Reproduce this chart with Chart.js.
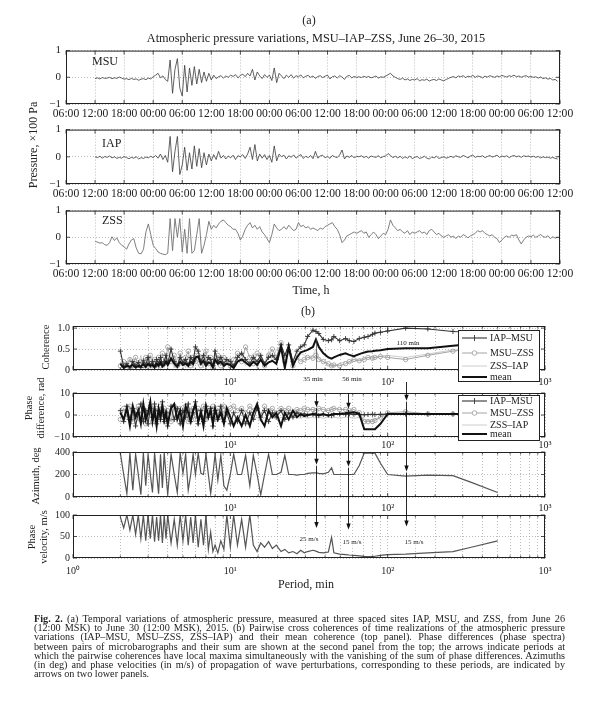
<!DOCTYPE html>
<html>
<head>
<meta charset="utf-8">
<script src="https://cdn.jsdelivr.net/npm/chart.js@4.4.1/dist/chart.umd.min.js"></script>
<style>
  body { margin: 0; background: #fff; }
  #page { position: relative; width: 600px; height: 701px; overflow: hidden;
          font-family: "Liberation Serif", "DejaVu Serif", serif; color: #222; }
  canvas { position: absolute; left: 0; }
  #overlay { top: 0; z-index: 5; pointer-events: none; }
  .t { position: absolute; white-space: nowrap; z-index: 6; line-height: 1; }
  .c { transform: translate(-50%, -50%); }
  .rot { transform: translate(-50%, -50%) rotate(-90deg); }
  .note { font-size: 7px; background: #fff; padding: 0 1px; }
  #caption { position: absolute; left: 34px; top: 614px; width: 531px; font-size: 10.2px; line-height: 9.2px; z-index: 6; }
  #caption div { white-space: nowrap; text-align: justify; text-align-last: justify; }
  #caption div.last { text-align-last: left; }
</style>
</head>
<body>
<div id="page">
  <div class="t c" style="left:309px;top:20px;font-size:12px;">(a)</div>
  <div class="t c" style="left:316px;top:38px;font-size:12.3px;">Atmospheric pressure variations, MSU–IAP–ZSS, June 26–30, 2015</div>
  <div class="t" style="left:92px;top:55px;font-size:12px;">MSU</div>
  <div class="t" style="left:102px;top:137px;font-size:12px;">IAP</div>
  <div class="t" style="left:102px;top:214px;font-size:12px;">ZSS</div>
  <div class="t rot" style="left:33px;top:145px;font-size:12px;">Pressure, ×100 Pa</div>
  <div class="t c" style="left:311px;top:290px;font-size:12px;">Time, h</div>

  <div class="t c" style="left:308px;top:311px;font-size:12px;">(b)</div>
  <div class="t rot" style="left:46px;top:347px;font-size:10.5px;">Coherence</div>
  <div class="t rot" style="left:29px;top:408px;font-size:10.5px;">Phase</div>
  <div class="t rot" style="left:41px;top:408px;font-size:10.5px;">difference, rad</div>
  <div class="t rot" style="left:36px;top:476px;font-size:10.5px;">Azimuth, deg</div>
  <div class="t rot" style="left:32px;top:537px;font-size:10.5px;">Phase</div>
  <div class="t rot" style="left:44px;top:537px;font-size:10.5px;">velocity, m/s</div>
  <div class="t c" style="left:306px;top:584px;font-size:12px;">Period, min</div>

  <div class="t c note" style="left:313px;top:379px;">35 min</div>
  <div class="t c note" style="left:352px;top:379px;">56 min</div>
  <div class="t c note" style="left:408px;top:343px;background:none;">110 min</div>
  <div class="t c note" style="left:309px;top:539px;">25 m/s</div>
  <div class="t c note" style="left:352px;top:542px;">15 m/s</div>
  <div class="t c note" style="left:414px;top:542px;">15 m/s</div>

  <canvas id="msu"></canvas>
  <canvas id="iap"></canvas>
  <canvas id="zss"></canvas>
  <canvas id="coh"></canvas>
  <canvas id="phase"></canvas>
  <canvas id="azim"></canvas>
  <canvas id="vel"></canvas>
  <canvas id="overlay"></canvas>

  <div id="caption">
    <div><b>Fig. 2.</b> (a) Temporal variations of atmospheric pressure, measured at three spaced sites IAP, MSU, and ZSS, from June 26</div>
    <div>(12:00 MSK) to June 30 (12:00 MSK), 2015. (b) Pairwise cross coherences of time realizations of the atmospheric pressure</div>
    <div>variations (IAP–MSU, MSU–ZSS, ZSS–IAP) and their mean coherence (top panel). Phase differences (phase spectra)</div>
    <div>between pairs of microbarographs and their sum are shown at the second panel from the top; the arrows indicate periods at</div>
    <div>which the pairwise coherences have local maxima simultaneously with the vanishing of the sum of phase differences. Azimuths</div>
    <div>(in deg) and phase velocities (in m/s) of propagation of wave perturbations, corresponding to these periods, are indicated by</div>
    <div class="last">arrows on two lower panels.</div>
  </div>
</div>

<script>
// --- (a) PRESSURE, x100 Pa, one sample every 30 min from June 26 12:00 ---
const sampleStartHour = 6;      // hours after June 26 06:00
const sampleStepHour = 0.5;

const pressureMsu = [
  -0.05, -0.02, -0.06, -0.01, -0.04, -0.03, 0.00, -0.05, -0.02, -0.04, 0.01, -0.03, -0.07, -0.05, -0.09, -0.04, -0.08, -0.06, -0.11, -0.07, -0.05, -0.09, -0.03, -0.06, 0.02,
  0.08, 0.15, -0.02, 0.05, -0.08, -0.15,
  0.65, -0.6, 0.3, 0.7, -0.4, -0.7, 0.45, -0.55, 0.35, -0.3, 0.4, -0.25, 0.3, -0.2,
  0.2, -0.15, 0.15, -0.1, 0.08, -0.05,
  0.02, 0.06, -0.03, 0.05, 0.0, 0.08, 0.03, 0.1, -0.02, 0.07, 0.12, 0.02, 0.15, 0.05,
  0.3, -0.1, 0.2, 0.05, -0.05, 0.1, 0.0, 0.08, -0.12, 0.35, -0.2, 0.15,
  0.05, -0.05, 0.08, 0.0, 0.1, -0.03, 0.06, 0.02, 0.09, -0.02, 0.04, 0.07, 0.0, 0.05, -0.04, 0.03, 0.06, -0.01, 0.04, 0.08,
  -0.06, 0.02, 0.05, -0.03, 0.06, 0.01, -0.08, 0.04, 0.07, -0.02, 0.03, 0.0,
  0.02, -0.01, 0.04, 0.0, 0.03, -0.02, 0.01, 0.05, -0.03, 0.02, 0.0, 0.04,
  0.1, 0.15, 0.05, 0.0,
  -0.05, -0.08, -0.03, -0.1, -0.06, -0.12, -0.08, -0.1, -0.05, -0.13, -0.09, -0.11, -0.07, -0.14, -0.1, -0.08, -0.12, -0.06, -0.1, -0.13, -0.08, -0.04,
  0.0, 0.03, -0.02, 0.05, 0.02, 0.06, -0.01, 0.04, 0.02, 0.07, 0.0, 0.05, 0.03, -0.02, 0.04, 0.01, 0.06, 0.03, 0.0, 0.05,
  0.02, 0.07, 0.04, 0.01, 0.06, 0.03, 0.08, 0.02, 0.05, 0.0, 0.04, 0.06, 0.01, 0.03,
  0.0, 0.02, -0.03, 0.01, -0.05, -0.02, -0.07, -0.04, -0.1, -0.08, -0.15
];

const pressureIap = [
  0.0, -0.03, 0.02, -0.05, 0.01, -0.02, 0.03, -0.04, 0.0, -0.06, -0.02, -0.05, 0.01, -0.03, -0.07, -0.02, -0.05, 0.0, -0.08, -0.03, -0.06, -0.01, -0.04, 0.02, -0.03,
  0.05, -0.05, 0.1, -0.1, 0.05, -0.2,
  0.75, -0.55, 0.2, 0.75, -0.65, -0.3, 0.35, -0.5, 0.15, -0.45, 0.4, -0.35, 0.3, -0.4,
  0.15, -0.3, 0.1, -0.15, 0.08, -0.1,
  0.2, -0.05, 0.05, -0.08, 0.03, -0.04, 0.06, -0.1, 0.04, 0.0, 0.08, -0.06, 0.1, 0.35,
  -0.1, 0.45, -0.15, 0.1, -0.05, 0.08, -0.1, 0.05, -0.2, 0.4, -0.15, 0.1,
  0.0, 0.06, -0.08, 0.04, -0.02, 0.07, -0.05, 0.03, 0.08, -0.06, 0.02, -0.03, 0.05, -0.07, 0.2, -0.05, 0.03, 0.06, -0.04, 0.02,
  -0.06, 0.05, 0.0, -0.03, 0.07, 0.25, -0.08, 0.03, -0.02, 0.05, -0.04, 0.02,
  0.0, 0.04, -0.03, 0.02, -0.05, 0.03, 0.0, -0.02, 0.04, -0.04, 0.01, 0.03,
  0.12, 0.05, -0.03, 0.02,
  -0.04, 0.02, -0.06, 0.0, -0.05, 0.03, -0.07, -0.02, 0.01, -0.06, -0.03, 0.02, -0.05, -0.08, -0.01, -0.04, 0.02, -0.06, -0.03, 0.0, -0.05, -0.02,
  0.02, -0.03, 0.04, 0.0, -0.02, 0.05, 0.01, -0.04, 0.03, 0.06, -0.02, 0.02, 0.0, 0.04, -0.03, 0.01, 0.05, -0.01, 0.02, 0.06,
  -0.02, 0.03, 0.0, 0.04, -0.03, 0.02, 0.05, 0.0, 0.03, -0.02, 0.04, 0.01, 0.03, -0.01,
  0.02, -0.02, 0.01, -0.04, 0.0, -0.03, -0.01, -0.05, -0.02, -0.06, -0.08
];

const pressureZss = [
  -0.15, -0.18, -0.22, -0.2, -0.28, -0.3, -0.2, 0.02, -0.12, -0.02, -0.2, -0.3, -0.35,
  -0.45, -0.25, -0.1, -0.05, -0.4, -0.6, -0.62, -0.45, 0.2, 0.5, 0.1, -0.3,
  -0.42, -0.55, -0.6, -0.63, -0.65, -0.6, 0.7, -0.5, 0.7, 0.0, 0.7, -0.55, 0.3, -0.6, 0.7, -0.6, -0.5, 0.1, 0.7, -0.6, -0.3, 0.1, 0.6, 0.3,
  0.45, 0.35, 0.5, 0.6, 0.65, 0.55, 0.45, 0.4, 0.3, 0.3, 0.15, -0.1, 0.05, 0.3, 0.45, 0.55, 0.35, 0.45, 0.3, 0.4, 0.2, 0.1, -0.05, -0.2,
  0.1, 0.5, 0.35, 0.25, 0.3, 0.4, 0.3, 0.45, 0.35, 0.25, 0.3, 0.55, 0.4, 0.45, 0.35, 0.4, 0.3, 0.35, 0.3, 0.25,
  0.35, 0.3, 0.4, 0.45, 0.5, 0.55, 0.4, 0.3, 0.1, -0.2, -0.1, 0.05, 0.1, 0.15, 0.2, 0.15,
  0.2, 0.25, 0.15, 0.2, 0.0, 0.1, 0.2, 0.1, -0.05, 0.05, 0.15, 0.1, 0.3, 0.65, 0.45, 0.35, 0.25, 0.3, 0.2, 0.15, 0.25, 0.1, 0.2, 0.15,
  0.2, 0.25, 0.15, 0.2, 0.1, 0.25, 0.3, 0.2, 0.1, 0.15, 0.05, 0.0, 0.05, 0.1, 0.0, 0.05, -0.05, 0.05, 0.0, 0.1, 0.05, -0.02, 0.05, 0.1,
  0.15, 0.25, 0.2, 0.25, 0.15, 0.1, 0.05, 0.1, 0.0, -0.05, -0.2, -0.1, 0.0, 0.05, 0.0, 0.08, 0.05, 0.1, -0.1, -0.25, -0.1, 0.0, 0.05, 0.02,
  0.08, 0.0, 0.05, 0.1, 0.03, 0.0, 0.06, -0.05, 0.02, -0.03, 0.0
];

const timeTickHours = [0, 6, 12, 18, 24, 30, 36, 42, 48, 54, 60, 66, 72, 78, 84, 90, 96, 102];
const timeTickLabels = ['06:00', '12:00', '18:00', '00:00', '06:00', '12:00', '18:00', '00:00', '06:00',
                        '12:00', '18:00', '00:00', '06:00', '12:00', '18:00', '00:00', '06:00', '12:00'];
const pressureTicks = [-1, 0, 1];

// --- (b) SPECTRA vs period, min ---
const periods = [
  2.0, 2.1, 2.2, 2.3, 2.4, 2.5, 2.6, 2.7, 2.8, 2.9, 3.0, 3.1, 3.2, 3.3, 3.4, 3.5, 3.6, 3.7, 3.8, 3.9,
  4.0, 4.2, 4.4, 4.6, 4.8, 5.0, 5.2, 5.4, 5.6, 5.8,
  6.0, 6.25, 6.5, 6.75, 7.0, 7.25, 7.5, 7.75, 8.0, 8.33, 8.7, 9.1, 9.5,
  10.0, 10.5, 11.1, 11.8, 12.5, 13.3, 14.0, 14.8, 15.6, 16.5, 17.5, 18.5, 19.6,
  21.0, 22.2, 23.5, 25.0, 26.5, 28.0, 29.5, 31.0, 33.5, 35.0, 36.5, 39.0, 42.0, 44.0, 45.5, 49.5,
  54.0, 57.0, 61.0, 66.0, 71.0, 75.0, 80.0, 83.0, 90.0, 100, 130, 180, 260, 340, 500
];

const cohIapMsu = [
  0.45, 0.08, 0.15, 0.05, 0.2, 0.1, 0.18, 0.06, 0.22, 0.12, 0.3, 0.1, 0.2, 0.08, 0.25, 0.15, 0.3, 0.12, 0.2, 0.35,
  0.15, 0.5, 0.2, 0.1, 0.3, 0.18, 0.25, 0.12, 0.3, 0.2,
  0.55, 0.45, 0.2, 0.35, 0.15, 0.3, 0.25, 0.1, 0.45, 0.2, 0.3, 0.15, 0.25,
  0.2, 0.1, 0.3, 0.4, 0.25, 0.15, 0.3, 0.2, 0.35, 0.15, 0.3, 0.35, 0.25,
  0.6, 0.35, 0.6, 0.2, 0.45, 0.55, 0.6, 0.8, 0.95, 0.92, 0.87, 0.73, 0.7, 0.72, 0.8, 0.7,
  0.75, 0.7, 0.68, 0.75, 0.78, 0.8, 0.85, 0.88, 0.9, 0.93, 1.0, 0.98, 0.92, 0.9, 0.88
];
const cohMsuZss = [
  0.1, 0.2, 0.05, 0.25, 0.1, 0.3, 0.05, 0.2, 0.1, 0.3, 0.15, 0.35, 0.1, 0.25, 0.05, 0.3, 0.1, 0.4, 0.15, 0.25,
  0.55, 0.2, 0.35, 0.1, 0.4, 0.15, 0.3, 0.45, 0.1, 0.3,
  0.2, 0.35, 0.1, 0.3, 0.45, 0.15, 0.3, 0.05, 0.2, 0.35, 0.1, 0.3, 0.2,
  0.1, 0.25, 0.4, 0.2, 0.55, 0.3, 0.15, 0.4, 0.25, 0.1, 0.35, 0.5, 0.3,
  0.65, 0.2, 0.45, 0.1, 0.3, 0.2, 0.25, 0.3, 0.28, 0.35, 0.25, 0.2, 0.15, 0.1, 0.12, 0.1,
  0.15, 0.2, 0.25, 0.22, 0.25, 0.3, 0.28, 0.3, 0.32, 0.3, 0.25, 0.35, 0.45, 0.5, 0.55
];
const cohZssIap = [
  0.05, 0.15, 0.1, 0.3, 0.05, 0.2, 0.12, 0.35, 0.05, 0.15, 0.25, 0.05, 0.3, 0.1, 0.2, 0.05, 0.25, 0.15, 0.05, 0.3,
  0.1, 0.25, 0.05, 0.3, 0.1, 0.2, 0.05, 0.3, 0.15, 0.05,
  0.35, 0.1, 0.25, 0.05, 0.3, 0.1, 0.2, 0.05, 0.35, 0.1, 0.25, 0.05, 0.2,
  0.3, 0.05, 0.2, 0.35, 0.1, 0.25, 0.4, 0.05, 0.3, 0.15, 0.45, 0.2, 0.5,
  0.55, 0.1, 0.6, 0.05, 0.35, 0.4, 0.35, 0.3, 0.35, 0.5, 0.3, 0.2, 0.12, 0.08, 0.1, 0.15,
  0.2, 0.18, 0.2, 0.25, 0.28, 0.3, 0.32, 0.3, 0.33, 0.35, 0.3, 0.38, 0.48, 0.52, 0.56
];
const cohMean = [
  0.15, 0.05, 0.1, 0.08, 0.12, 0.06, 0.1, 0.08, 0.14, 0.07, 0.15, 0.1, 0.12, 0.06, 0.15, 0.1, 0.18, 0.08, 0.12, 0.2,
  0.12, 0.28, 0.15, 0.08, 0.2, 0.12, 0.16, 0.1, 0.2, 0.14,
  0.3, 0.32, 0.15, 0.22, 0.1, 0.18, 0.16, 0.06, 0.25, 0.15, 0.2, 0.1, 0.15,
  0.12, 0.05, 0.2, 0.25, 0.18, 0.1, 0.2, 0.12, 0.25, 0.1, 0.18, 0.22, 0.15,
  0.55, 0.05, 0.55, 0.1, 0.3, 0.42, 0.45, 0.48, 0.55, 0.73, 0.55, 0.4, 0.3, 0.27, 0.3, 0.36,
  0.4, 0.36, 0.33, 0.38, 0.42, 0.44, 0.45, 0.46, 0.47, 0.5, 0.52, 0.52, 0.58, 0.62, 0.65
];

const phIapMsu = [
  2, -3, 4, -2, 3, -5, 1, 5, -3, 2, -4, 3, -1, 5, -4, 2, -2, 6, -3, 1,
  -5, 4, -2, 3, -4, 2, -1, 5, -3, 1,
  6, -4, 2, -3, 4, -1, 3, -5, 2, -2, 4, -3, 1,
  -4, 1, -3, 2, -4, 1, -2, 3, -1, 2, -3, 1, -1,
  2, -2, 1, -1, 1, 0, 0.5, 0, 0.3, 0, -0.3, 0.2, 0, -0.2, 0.2, 0.4,
  0.3, 0.5, 0.3, 0.2, 0.1, 0.2, 0.3, 0.2, 0.3, 0.4, 0.4, 0.4, 0.4, 0.4, 0.4
];
const phMsuZss = [
  -2, 3, -1, 4, -3, 2, 4, -2, 3, -4, 1, 4, -3, 2, 3, -2, 4, -1, 3, -3,
  2, -3, 4, -1, 3, -2, 4, -3, 2, 3,
  -2, 3, -1, 4, -2, 3, 1, 4, -2, 3, 1, 4, 2,
  3, 4, 2, 3, 1, 4, 2, 3, 0, 4, 2, 3, 1,
  3, 2, 3, 1, 2.5, 2, 3, 2.5, 2.5, 2, 3, 2.5, 2, 2.5, 3, 2.5,
  2.5, 2, 2.5, 1, -3, -3, -3, -2.5, -1, 1, 1.5, 0.5, 0.5, 0.5, 0.5
];
const phZssIap = [
  1, -2, 3, -4, 2, 1, -3, 2, -1, 3, -2, 1, 4, -3, 1, 3, -4, 2, -1, 3,
  -2, 1, -3, 2, 1, -3, 2, -1, 3, -2,
  1, -2, 3, -1, -3, 2, -2, 1, -3, 1, -2, 2, -1,
  -2, -3, -1, -2, -3, -1, -2, -1, -3, -1, -2, -1, -2,
  -1, -2, -1, -1.5, -1, -1.5, -1, -1.5, -1, -1.5, -1, -1.5, -1, -1.5, -1, -1.5,
  -1, -1, -1.5, -1, -2, -2.5, -2, -2, -1, 0, 1, 0.5, 0.3, 0.3, 0.3
];
const phMean = [
  1, -2, 3, -5, 4, -1, 2, -4, 5, -2, 1, 6, -3, 2, -5, 3, -1, 4, -2, 1,
  -4, 3, 5, -2, 2, -5, 4, 1, -3, 2,
  5, -3, 1, -5, 4, -1, 2, -4, 3, -2, 1, -4, 3,
  -1, -5, -1, -5, 0, -5, 1, 5, -2, -5, 2, -1, 1,
  -5, 1, -2, 2, -1, 0.5, -0.5, 0, 0.5, 0.3, 0, 0.4, -0.3, 0.3, 0.5, 0.6,
  0.8, 1, 1.2, 0.5, -6.5, -6.5, -6.5, -6.5, -4, 0.5, 0.5, 0.5, 0.5, 0.5, 0.5
];

const azimuthDeg = [
  390, 200, 30, 390, 60, 380, 200, 20, 390, 100, 380, 200, 40, 390, 210, 30, 380, 80, 390, 200,
  20, 380, 200, 40, 390, 210, 380, 60, 200, 380,
  200, 390, 210, 200, 380, 200, 30, 200, 380, 150, 370, 100, 60,
  200, 380, 200, 200, 370, 100, 370, 200, 20, 200, 380, 200, 200,
  220, 370, 200, 200, 195, 200, 200, 210, 215, 215, 210, 205, 220, 260, 200, 200,
  200, 200, 200, 280, 390, 390, 390, 390, 300, 200, 185, 195, 190, 130, 40
];
const velocityMs = [
  95, 70, 100, 65, 100, 55, 100, 45, 100, 40, 100, 45, 100, 38, 95, 40, 100, 35, 100, 45,
  100, 35, 90, 30, 100, 40, 100, 30, 95, 35,
  100, 25, 90, 30, 100, 20, 60, 15, 30, 12, 40, 20, 100,
  25, 100, 30, 90, 25, 100, 30, 15, 35, 25, 38, 22, 30,
  15, 20, 12, 15, 10, 18, 12, 15, 18, 16, 13, 12, 14, 48, 12, 9,
  8, 7, 6, 5, 4, 3.5, 3, 4, 6, 8, 9, 12, 15, 25, 40
];

const cohTicks = [0, 0.5, 1];
const phaseTicks = [-10, 0, 10];
const azimuthTicks = [0, 200, 400];
const velocityTicks = [0, 50, 100];

// periods marked by arrows, and where the arrow heads sit on each panel
const markedPeriods = [35, 56, 130];
const arrowPhaseHead = [3.5, 2.8, 6.5];
const arrowAzimuthHead = [287, 270, 226];
const arrowVelocityHead = [70, 66, 73];

// --- STYLES ---
const serif = '"Liberation Serif", "Times New Roman", serif';
const sup = ['\u2070', '\u00b9', '\u00b2', '\u00b3'];
const styleIapMsu = { borderColor: '#333', borderWidth: 1.1, pointStyle: 'cross', pointRadius: 2.5,
                      pointBorderColor: '#333', pointBorderWidth: 0.9, order: 1 };
const styleMsuZss = { borderColor: '#9a9a9a', borderWidth: 0.9, pointStyle: 'circle', pointRadius: 2.2,
                      pointBorderColor: '#999', pointBackgroundColor: 'rgba(255,255,255,0)', pointBorderWidth: 0.8, order: 2 };
const styleZssIap = { borderColor: '#c6c6c6', borderWidth: 0.9, pointRadius: 0, order: 3 };
const styleMean = { borderColor: '#111', borderWidth: 2, pointRadius: 0, order: 0 };

const pts = (xs, ys) => ys.map((y, i) => ({ x: xs[i], y }));
const timeHours = pressureMsu.map((_, i) => sampleStartHour + i * sampleStepHour);
const isDecade = v => { const e = Math.log10(v); return Math.abs(e - Math.round(e)) < 1e-6; };
const minus = v => (v < 0 ? '\u2212' + Math.abs(v) : String(v));

// box + inner tick marks, matlab style
const framePlugin = {
  id: 'frame',
  afterDatasetsDraw(chart, args, opts) {
    const { ctx, chartArea: a, scales } = chart;
    ctx.save();
    ctx.strokeStyle = '#222';
    ctx.lineWidth = 1;
    ctx.strokeRect(a.left + 0.5, a.top + 0.5, a.right - a.left - 1, a.bottom - a.top - 1);
    ctx.lineWidth = 0.8;
    ctx.beginPath();
    scales.x.ticks.forEach(t => {
      const x = scales.x.getPixelForValue(t.value);
      const len = opts.log && !isDecade(t.value) ? 2.5 : 4;
      ctx.moveTo(x, a.bottom); ctx.lineTo(x, a.bottom - len);
      ctx.moveTo(x, a.top); ctx.lineTo(x, a.top + len);
    });
    scales.y.ticks.forEach(t => {
      const y = scales.y.getPixelForValue(t.value);
      ctx.moveTo(a.left, y); ctx.lineTo(a.left + 4, y);
      ctx.moveTo(a.right, y); ctx.lineTo(a.right - 4, y);
    });
    ctx.stroke();
    ctx.restore();
  }
};

function buildPanel(id, area, cfg) {
  const padTop = 8;
  const cv = document.getElementById(id);
  const h = padTop + (area.bottom - area.top) + cfg.xh;
  cv.style.top = (area.top - padTop) + 'px';
  cv.width = 600; cv.height = h;
  cv.style.width = '600px'; cv.style.height = h + 'px';

  let xScale;
  if (cfg.log) {
    xScale = {
      type: 'logarithmic', min: 1, max: 1000,
      ticks: { callback: v => (isDecade(v) && (cfg.showZero || v > 1.5)) ? '10' + sup[Math.round(Math.log10(v))] : '' }
    };
  } else {
    xScale = {
      type: 'linear', min: 0, max: 102,
      afterBuildTicks: s => { s.ticks = timeTickHours.map(v => ({ value: v })); },
      ticks: { callback: (v, i) => timeTickLabels[i] }
    };
  }
  Object.assign(xScale.ticks, { font: { family: serif, size: cfg.xFont || cfg.fontSize }, color: '#222',
                                padding: cfg.xPad, autoSkip: false, maxRotation: 0 });
  xScale.grid = { color: '#a0a0a0', lineWidth: 0.7, drawTicks: false };
  xScale.border = { display: false, dash: [1, 2] };
  xScale.afterFit = s => { s.height = cfg.xh; };

  const chart = new Chart(cv, {
    type: 'line',
    data: { datasets: cfg.datasets },
    options: {
      responsive: false, animation: false, events: [],
      layout: { padding: { top: padTop, left: 0, right: 600 - area.right, bottom: 0 } },
      plugins: { legend: { display: false }, tooltip: { enabled: false }, frame: { log: !!cfg.log } },
      elements: { line: { tension: 0 }, point: { radius: 0 } },
      scales: {
        x: xScale,
        y: {
          min: cfg.yMin, max: cfg.yMax,
          afterBuildTicks: s => { s.ticks = cfg.yTicks.map(v => ({ value: v })); },
          ticks: { callback: cfg.yLabel || minus, font: { family: serif, size: cfg.fontSize }, color: '#222', padding: cfg.yPad },
          grid: { color: '#a0a0a0', lineWidth: 0.7, drawTicks: false },
          border: { display: false, dash: [1, 2] },
          afterFit: s => { s.width = area.left; }
        }
      }
    },
    plugins: [framePlugin]
  });
  chart.pageTop = area.top - padTop;
  return chart;
}

const lineStyle = (color, width) => ({ borderColor: color, borderWidth: width, pointRadius: 0 });

// --- (a) three pressure panels ---
const topCfg = { xh: 20, xPad: 3, yPad: 5, fontSize: 11, xFont: 11.6, yMin: -1, yMax: 1, yTicks: pressureTicks };
buildPanel('msu', { left: 66, right: 560, top: 47, bottom: 104 },
  Object.assign({ datasets: [Object.assign({ data: pts(timeHours, pressureMsu) }, lineStyle('#3a3a3a', 0.8))] }, topCfg));
buildPanel('iap', { left: 66, right: 560, top: 126, bottom: 184 },
  Object.assign({ datasets: [Object.assign({ data: pts(timeHours, pressureIap) }, lineStyle('#3a3a3a', 0.8))] }, topCfg));
buildPanel('zss', { left: 66, right: 560, top: 207, bottom: 264 },
  Object.assign({ datasets: [Object.assign({ data: pts(timeHours, pressureZss) }, lineStyle('#707070', 0.9))] }, topCfg));

// --- (b) four spectral panels ---
const fourSeries = (a, b, c, m) => [
  Object.assign({ data: pts(periods, m) }, styleMean),
  Object.assign({ data: pts(periods, a) }, styleIapMsu),
  Object.assign({ data: pts(periods, b) }, styleMsuZss),
  Object.assign({ data: pts(periods, c) }, styleZssIap)
];
const area = (top, bottom) => ({ left: 73, right: 545, top, bottom });

const cohChart = buildPanel('coh', area(325, 370), {
  log: true, xh: 20, xPad: 6, yPad: 3, fontSize: 10, yMin: 0, yMax: 1.05, yTicks: cohTicks,
  yLabel: v => (v === 0 ? '0' : v.toFixed(1)),
  datasets: fourSeries(cohIapMsu, cohMsuZss, cohZssIap, cohMean)
});
const phaseChart = buildPanel('phase', area(392, 437), {
  log: true, xh: 16, xPad: 2, yPad: 3, fontSize: 10, yMin: -10, yMax: 10, yTicks: phaseTicks,
  datasets: fourSeries(phIapMsu, phMsuZss, phZssIap, phMean)
});
const azChart = buildPanel('azim', area(451, 497), {
  log: true, xh: 18, xPad: 5, yPad: 3, fontSize: 10, yMin: 0, yMax: 400, yTicks: azimuthTicks,
  datasets: [Object.assign({ data: pts(periods, azimuthDeg) }, lineStyle('#555', 1.2))]
});
const velChart = buildPanel('vel', area(514, 558), {
  log: true, showZero: true, xh: 22, xPad: 7, yPad: 3, fontSize: 10, yMin: 0, yMax: 100, yTicks: velocityTicks,
  datasets: [Object.assign({ data: pts(periods, velocityMs) }, lineStyle('#555', 1.2))]
});

// --- overlay: arrows, 35 min marker, legends ---
const ov = document.getElementById('overlay');
const dpr = window.devicePixelRatio || 1;
ov.width = 600 * dpr; ov.height = 701 * dpr;
ov.style.width = '600px'; ov.style.height = '701px';
const ctx = ov.getContext('2d');
ctx.scale(dpr, dpr);

const pageY = (chart, v) => chart.pageTop + chart.scales.y.getPixelForValue(v);
const pageX = v => cohChart.scales.x.getPixelForValue(v);

function arrow(x, y1, y2) {
  ctx.beginPath(); ctx.moveTo(x, y1); ctx.lineTo(x, y2 - 4); ctx.stroke();
  ctx.beginPath(); ctx.moveTo(x, y2); ctx.lineTo(x - 2.2, y2 - 6); ctx.lineTo(x + 2.2, y2 - 6); ctx.closePath(); ctx.fill();
}

ctx.strokeStyle = '#111'; ctx.fillStyle = '#111'; ctx.lineWidth = 0.9;
markedPeriods.forEach((T, i) => {
  const x = Math.round(pageX(T)) + 0.5;
  const start = T > 100 ? cohChart.pageTop + cohChart.chartArea.bottom + 12 : phaseChart.pageTop + phaseChart.chartArea.top;
  const yPh = pageY(phaseChart, arrowPhaseHead[i]);
  const yAz = pageY(azChart, arrowAzimuthHead[i]);
  const yVel = pageY(velChart, arrowVelocityHead[i]);
  arrow(x, start, yPh);
  arrow(x, yPh + 1, yAz);
  arrow(x, yAz + 1, yVel);
});

// thin line under the 35 min coherence peak
ctx.lineWidth = 0.7; ctx.strokeStyle = '#444';
ctx.beginPath();
ctx.moveTo(Math.round(pageX(35)) + 0.5, pageY(cohChart, cohMean[periods.indexOf(35)]));
ctx.lineTo(Math.round(pageX(35)) + 0.5, pageY(cohChart, 0));
ctx.stroke();

const legendItems = [
  { label: 'IAP–MSU', style: styleIapMsu },
  { label: 'MSU–ZSS', style: styleMsuZss },
  { label: 'ZSS–IAP', style: styleZssIap },
  { label: 'mean', style: styleMean }
];

function drawLegend(x, y, w, h, rows) {
  ctx.save();
  ctx.fillStyle = '#fff';
  ctx.fillRect(x, y, w, h);
  ctx.strokeStyle = '#222'; ctx.lineWidth = 1;
  ctx.strokeRect(x + 0.5, y + 0.5, w, h);
  ctx.font = '10px ' + serif;
  ctx.textBaseline = 'middle';
  legendItems.forEach((it, i) => {
    const ry = rows[i];
    const s = it.style;
    ctx.strokeStyle = s.borderColor; ctx.lineWidth = s.borderWidth;
    ctx.beginPath(); ctx.moveTo(x + 4, ry); ctx.lineTo(x + 29, ry); ctx.stroke();
    if (s.pointStyle === 'cross') {
      ctx.lineWidth = 0.9;
      ctx.beginPath(); ctx.moveTo(x + 16.5, ry - 3); ctx.lineTo(x + 16.5, ry + 3); ctx.stroke();
    } else if (s.pointStyle === 'circle') {
      ctx.lineWidth = 0.8; ctx.fillStyle = '#fff';
      ctx.beginPath(); ctx.arc(x + 16.5, ry, 2.3, 0, Math.PI * 2); ctx.fill(); ctx.stroke();
    }
    ctx.fillStyle = '#222';
    ctx.fillText(it.label, x + 32, ry + 0.5);
  });
  ctx.restore();
}

drawLegend(458, 330, 81, 51, [338, 353, 366, 377]);
drawLegend(458, 395, 81, 45, [401, 413, 425, 434]);
</script>
</body>
</html>
